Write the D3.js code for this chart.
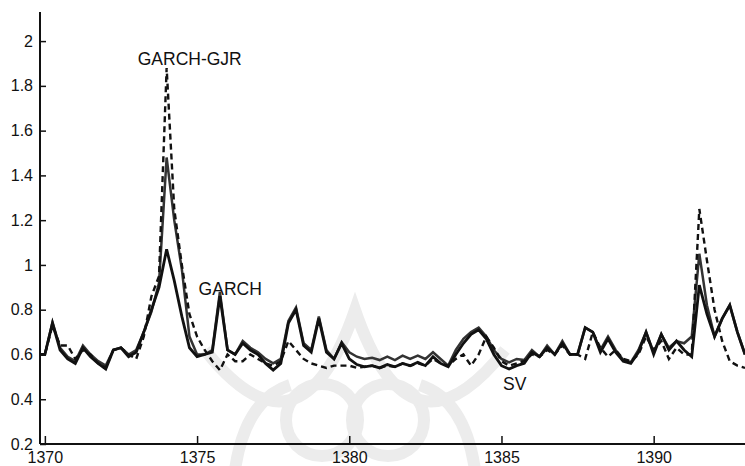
<!DOCTYPE html>
<html>
<head>
<meta charset="utf-8">
<script src="https://cdn.jsdelivr.net/npm/d3@7/dist/d3.min.js"></script>
<style>
  html, body { margin: 0; padding: 0; background: #fff; }
  svg { display: block; }
  text { font-family: Arial, "Liberation Sans", sans-serif; fill: #111; }
</style>
</head>
<body>
<svg id="chart" width="745" height="466"></svg>
<script>
// ---- data (quarterly, Persian years) ----
const periods = d3.range(-1, 93).map(k => 1370 + k / 4);

const garch = [
  0.60, 0.60, 0.745, 0.63, 0.59, 0.57, 0.64, 0.60, 0.57, 0.55, 0.62, 0.63, 0.60,
  0.62, 0.70, 0.79, 0.92, 1.48, 1.20, 0.98, 0.68, 0.60, 0.60, 0.62, 0.88, 0.62,
  0.60, 0.66, 0.63, 0.61, 0.58, 0.56, 0.58, 0.75, 0.81, 0.65, 0.62, 0.77, 0.62,
  0.58, 0.655, 0.61, 0.59, 0.58, 0.585, 0.575, 0.59, 0.575, 0.595, 0.58, 0.595,
  0.58, 0.61, 0.58, 0.55, 0.62, 0.67, 0.70, 0.72, 0.68, 0.62, 0.58, 0.565, 0.58,
  0.575, 0.62, 0.59, 0.64, 0.60, 0.66, 0.60, 0.60, 0.72, 0.70, 0.62, 0.68, 0.62,
  0.575, 0.565, 0.62, 0.70, 0.61, 0.69, 0.63, 0.66, 0.65, 0.68, 1.05, 0.82, 0.68,
  0.76, 0.82, 0.70, 0.60
];

const sv = [
  0.60, 0.60, 0.74, 0.62, 0.58, 0.56, 0.63, 0.59, 0.56, 0.535, 0.62, 0.63, 0.59,
  0.61, 0.70, 0.80, 0.90, 1.07, 0.93, 0.77, 0.63, 0.59, 0.60, 0.61, 0.86, 0.62,
  0.60, 0.65, 0.62, 0.60, 0.56, 0.53, 0.56, 0.74, 0.80, 0.64, 0.61, 0.76, 0.61,
  0.58, 0.65, 0.58, 0.555, 0.545, 0.55, 0.54, 0.555, 0.545, 0.56, 0.55, 0.565,
  0.55, 0.59, 0.56, 0.545, 0.60, 0.65, 0.69, 0.71, 0.67, 0.60, 0.55, 0.535, 0.55,
  0.56, 0.61, 0.59, 0.63, 0.60, 0.65, 0.60, 0.60, 0.72, 0.70, 0.61, 0.67, 0.61,
  0.57, 0.56, 0.61, 0.70, 0.60, 0.69, 0.62, 0.66, 0.62, 0.59, 0.91, 0.78, 0.68,
  0.76, 0.82, 0.70, 0.60
];

const gjr = [
  0.60, 0.60, 0.73, 0.64, 0.64, 0.58, 0.62, 0.60, 0.56, 0.54, 0.62, 0.63, 0.60,
  0.58, 0.68, 0.86, 0.95, 1.88, 1.25, 1.00, 0.78, 0.68, 0.62, 0.57, 0.53, 0.60,
  0.57, 0.57, 0.60, 0.58, 0.56, 0.55, 0.57, 0.66, 0.62, 0.58, 0.56, 0.55, 0.54,
  0.55, 0.55, 0.55, 0.54, 0.545, 0.55, 0.54, 0.55, 0.545, 0.56, 0.55, 0.56,
  0.55, 0.58, 0.56, 0.55, 0.58, 0.60, 0.55, 0.60, 0.68, 0.63, 0.57, 0.55, 0.56,
  0.57, 0.60, 0.59, 0.62, 0.60, 0.64, 0.60, 0.60, 0.58, 0.70, 0.63, 0.59, 0.62,
  0.58, 0.57, 0.60, 0.68, 0.62, 0.66, 0.58, 0.63, 0.60, 0.60, 1.25, 1.02, 0.80,
  0.66, 0.57, 0.55, 0.54
];

const xTicks = [1370, 1375, 1380, 1385, 1390];
const yTicks = [0.2, 0.4, 0.6, 0.8, 1, 1.2, 1.4, 1.6, 1.8, 2];

const series = [
  { name: "GARCH", values: garch, color: "#333", width: 2.5, dash: null },
  { name: "SV", values: sv, color: "#111", width: 2.8, dash: null },
  { name: "GARCH-GJR", values: gjr, color: "#111", width: 2.4, dash: "6,4" }
];

const seriesLabels = [
  { text: "GARCH-GJR", t: 1373.05, v: 1.895 },
  { text: "GARCH", t: 1375.05, v: 0.865 },
  { text: "SV", t: 1385.05, v: 0.44 }
];

// ---- layout ----
const svg = d3.select("#chart");
const padL = 40, padR = 745, padT = 12, padB = 444;

const x = d3.scaleLinear().domain([1369.84, 1393]).range([padL, padR]);
const y = d3.scaleLinear().domain([0.2, 2.13]).range([padB, padT]);

// faint watermark (background decoration)
const wm = svg.append("g").attr("fill", "none").attr("stroke", "#ececec").attr("stroke-width", 12);
wm.append("circle").attr("cx", 322).attr("cy", 420).attr("r", 36);
wm.append("circle").attr("cx", 388).attr("cy", 420).attr("r", 36);
wm.append("path").attr("d", "M205,350 Q300,470 355,310 Q410,470 505,350");
wm.append("path").attr("d", "M235,470 Q245,400 290,385");
wm.append("path").attr("d", "M475,470 Q465,400 420,385");

svg.append("defs").append("clipPath").attr("id", "clip")
  .append("rect").attr("x", padL).attr("y", padT).attr("width", padR - padL).attr("height", padB - padT);

const lineGen = d3.line().x((d, i) => x(periods[i])).y(d => y(d));

const g = svg.append("g").attr("clip-path", "url(#clip)");
series.forEach(s => {
  g.append("path")
    .datum(s.values)
    .attr("fill", "none")
    .attr("stroke", s.color)
    .attr("stroke-width", s.width)
    .attr("stroke-linejoin", "miter")
    .attr("stroke-dasharray", s.dash)
    .attr("d", lineGen);
});

// axes
const xAxis = d3.axisBottom(x).tickValues(xTicks).tickFormat(d3.format("d")).tickSizeInner(-8).tickSizeOuter(0).tickPadding(8);
const yAxis = d3.axisLeft(y).tickValues(yTicks).tickFormat(d => String(d)).tickSizeInner(-6).tickSizeOuter(0).tickPadding(7);

const gx = svg.append("g").attr("transform", `translate(0,${padB})`).call(xAxis);
const gy = svg.append("g").attr("transform", `translate(${padL},0)`).call(yAxis);

[gx, gy].forEach(a => {
  a.select(".domain").attr("stroke", "#111").attr("stroke-width", 2);
  a.selectAll(".tick line").attr("stroke", "#111").attr("stroke-width", 1.5);
  a.selectAll(".tick text").attr("font-size", 16).attr("font-family", "Arial, 'Liberation Sans', sans-serif").attr("fill", "#111");
});
gy.select(".domain").attr("d", `M0,${padT}V${padB}`);
gx.select(".domain").attr("d", `M${padL},0H${padR}`);

// series labels
svg.append("g").selectAll("text").data(seriesLabels).join("text")
  .attr("x", d => x(d.t))
  .attr("y", d => y(d.v))
  .attr("font-size", 17.5)
  .text(d => d.text);
</script>
</body>
</html>
